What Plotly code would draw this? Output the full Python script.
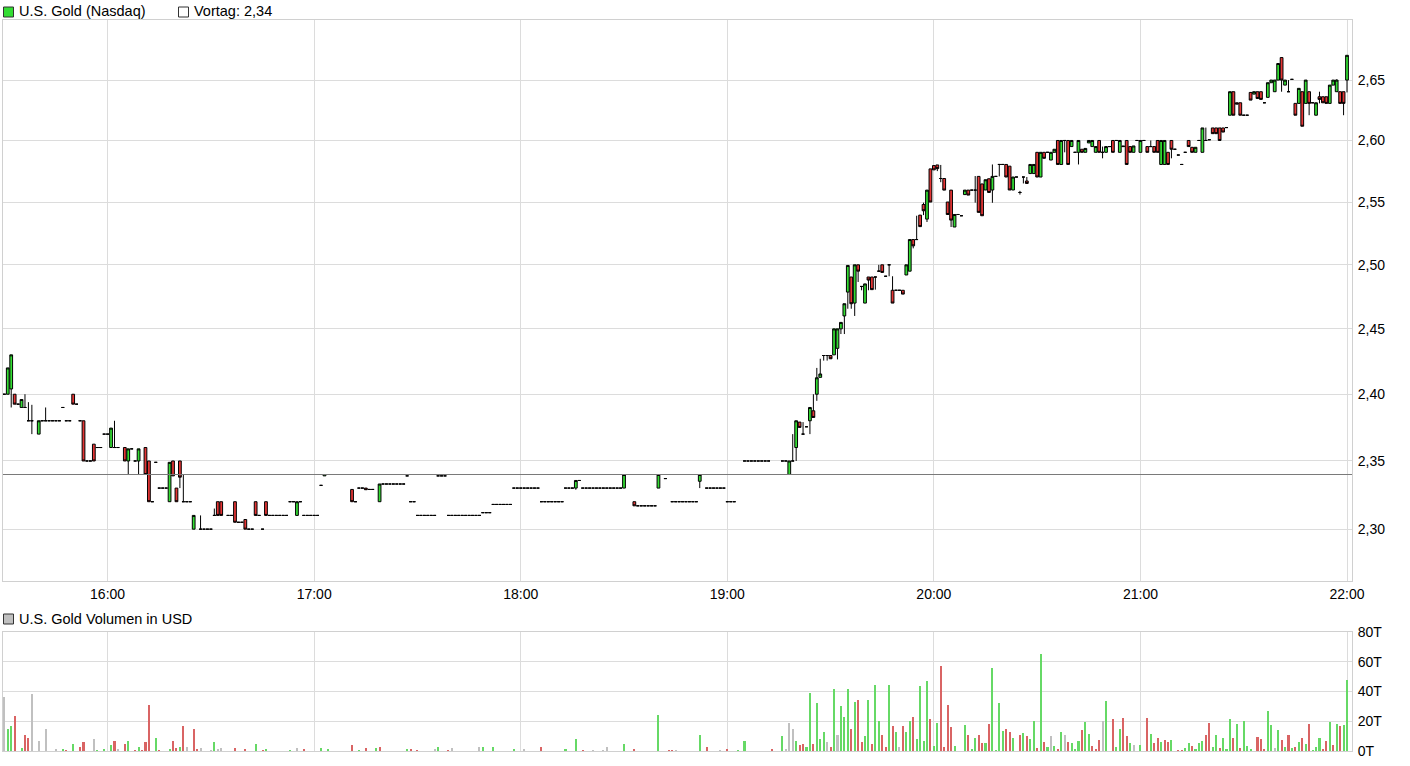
import math
import pandas as pd
import plotly.graph_objects as go

# ---------------- data (minutes after 15:30) ----------------
session_start = "2024-05-14 15:30:00"
prev_close = 2.34

# flat one-minute candles (open = high = low = close)
flat_min = [0, 4, 11, 13, 14, 15, 16, 17, 18, 19,
            21, 22, 24, 25, 27, 28, 29, 30, 33, 37,
            38, 43, 44, 45, 46, 47, 53, 54, 58, 59,
            60, 65, 66, 68, 69, 71, 72, 74, 75, 77,
            78, 79, 80, 81, 82, 83, 84, 86, 87, 88,
            89, 90, 91, 92, 102, 103, 104, 106, 107, 110,
            111, 112, 113, 114, 115, 116, 117, 118, 119, 120,
            121, 122, 123, 124, 125, 126, 127, 128, 129, 130,
            131, 132, 133, 134, 135, 136, 137, 138, 139, 140,
            141, 142, 143, 144, 145, 146, 147, 148, 149, 150,
            151, 152, 153, 154, 155, 156, 157, 158, 159, 160,
            161, 162, 163, 164, 165, 167, 168, 169, 170, 171,
            172, 173, 174, 175, 176, 177, 178, 179, 184, 185,
            186, 187, 188, 189, 191, 192, 194, 195, 196, 197,
            198, 199, 200, 201, 204, 205, 206, 207, 208, 209,
            210, 211, 212, 213, 214, 215, 216, 217, 218, 219,
            220, 221, 222, 226, 227, 233, 256, 259, 260, 277,
            278, 281, 288, 290, 294, 303, 311, 321, 323, 329,
            331, 340, 341, 342, 343, 347, 350, 355, 360, 361,
            366, 374, 380]
flat_px = [2.40, 2.3925, 2.38, 2.38, 2.38, 2.38, 2.38, 2.39, 2.38, 2.38,
           2.3925, 2.38, 2.35, 2.35, 2.36, 2.36, 2.37, 2.37, 2.36, 2.359,
           2.35, 2.32, 2.349, 2.33, 2.33, 2.33, 2.32, 2.32, 2.30, 2.30,
           2.30, 2.31, 2.31, 2.305, 2.305, 2.30, 2.30, 2.31, 2.30, 2.31,
           2.31, 2.31, 2.31, 2.31, 2.31, 2.32, 2.32, 2.32, 2.31, 2.31,
           2.31, 2.31, 2.31, 2.332, 2.32, 2.33, 2.33, 2.329, 2.329, 2.333,
           2.333, 2.333, 2.333, 2.333, 2.333, 2.333, 2.339, 2.32, 2.32, 2.31,
           2.31, 2.31, 2.31, 2.31, 2.31, 2.339, 2.339, 2.339, 2.31, 2.31,
           2.31, 2.31, 2.31, 2.31, 2.31, 2.31, 2.31, 2.31, 2.312, 2.312,
           2.312, 2.318, 2.318, 2.318, 2.318, 2.318, 2.318, 2.33, 2.33, 2.33,
           2.33, 2.33, 2.33, 2.33, 2.33, 2.32, 2.32, 2.32, 2.32, 2.32,
           2.32, 2.32, 2.33, 2.33, 2.33, 2.3356, 2.33, 2.33, 2.33, 2.33,
           2.33, 2.33, 2.33, 2.33, 2.33, 2.33, 2.33, 2.33, 2.317, 2.317,
           2.317, 2.317, 2.317, 2.317, 2.34, 2.337, 2.32, 2.32, 2.32, 2.32,
           2.32, 2.32, 2.32, 2.32, 2.33, 2.33, 2.33, 2.33, 2.33, 2.33,
           2.32, 2.32, 2.32, 2.34, 2.34, 2.35, 2.35, 2.35, 2.35, 2.35,
           2.35, 2.35, 2.35, 2.35, 2.35, 2.3755, 2.491, 2.48, 2.48, 2.54,
           2.539, 2.5596, 2.5707, 2.5804, 2.5702, 2.5903, 2.5903, 2.595, 2.60, 2.60,
           2.60, 2.5928, 2.5881, 2.5804, 2.5903, 2.60, 2.6006, 2.6106, 2.6208, 2.6208,
           2.6311, 2.6506, 2.6311]

# one-minute candles with a range
bar_min = [1, 2, 3, 5, 6, 7, 8, 10, 12, 20,
           23, 26, 31, 32, 35, 36, 39, 41, 42, 48,
           49, 50, 51, 52, 55, 57, 61, 62, 63, 67,
           70, 73, 76, 85, 93, 101, 105, 109, 166, 180,
           183, 190, 202, 228, 229, 230, 231, 232, 234, 235,
           236, 237, 238, 239, 240, 241, 242, 243, 244, 245,
           246, 247, 248, 249, 250, 251, 252, 253, 254, 255,
           257, 258, 261, 262, 263, 264, 265, 266, 267, 268,
           269, 270, 271, 272, 273, 274, 275, 276, 279, 280,
           282, 283, 284, 285, 286, 287, 289, 291, 292, 293,
           295, 296, 297, 298, 299, 300, 301, 302, 304, 305,
           306, 307, 308, 309, 310, 312, 313, 314, 315, 316,
           317, 318, 319, 320, 322, 324, 325, 326, 327, 328,
           330, 332, 333, 334, 335, 336, 337, 338, 339, 344,
           345, 346, 348, 349, 351, 352, 353, 354, 356, 357,
           358, 359, 362, 363, 364, 365, 367, 368, 369, 370,
           371, 372, 373, 375, 376, 377, 378, 379, 381, 382,
           383, 384, 385, 386, 387, 388, 389, 390]
bar_open = [2.40, 2.404, 2.40, 2.39, 2.39, 2.38, 2.38, 2.37, 2.38, 2.40,
            2.38, 2.3625, 2.36, 2.36, 2.36, 2.35, 2.35, 2.36, 2.35, 2.32,
            2.35, 2.33, 2.35, 2.32, 2.30, 2.30, 2.31, 2.32, 2.32, 2.32,
            2.307, 2.32, 2.32, 2.31, 2.339, 2.329, 2.330, 2.32, 2.33, 2.33,
            2.32, 2.33, 2.335, 2.34, 2.35, 2.36, 2.379, 2.37, 2.38, 2.3875,
            2.40, 2.4128, 2.4295, 2.4295, 2.4295, 2.43, 2.435, 2.45, 2.46, 2.4786,
            2.4904, 2.47, 2.50, 2.483, 2.47, 2.4904, 2.4904, 2.4904, 2.495, 2.50,
            2.50, 2.48, 2.48, 2.492, 2.495, 2.52, 2.52, 2.5395, 2.548, 2.5363,
            2.5768, 2.5795, 2.58, 2.569, 2.569, 2.55, 2.5596, 2.53, 2.556, 2.5596,
            2.5596, 2.5707, 2.5646, 2.5597, 2.5688, 2.5597, 2.5804, 2.5804, 2.579, 2.5597,
            2.5577, 2.5702, 2.567, 2.573, 2.573, 2.5903, 2.5702, 2.5903, 2.584, 2.5903,
            2.60, 2.5804, 2.60, 2.60, 2.595, 2.5903, 2.5928, 2.5903, 2.598, 2.595,
            2.5903, 2.60, 2.5903, 2.5903, 2.60, 2.5903, 2.5955, 2.60, 2.595, 2.5903,
            2.5903, 2.595, 2.595, 2.595, 2.60, 2.5804, 2.5804, 2.5903, 2.60, 2.60,
            2.5944, 2.5903, 2.5903, 2.60, 2.6103, 2.6103, 2.6103, 2.6103, 2.6208, 2.6403,
            2.6311, 2.6311, 2.6397, 2.6383, 2.6403, 2.6403, 2.6356, 2.6478, 2.6403, 2.65,
            2.6689, 2.6458, 2.6403, 2.6306, 2.6306, 2.6403, 2.6306, 2.6403, 2.6208, 2.6361,
            2.6361, 2.6361, 2.6306, 2.6458, 2.6403, 2.6403, 2.6403, 2.65]
bar_high = [2.42, 2.43, 2.40, 2.396, 2.40, 2.394, 2.392, 2.38, 2.39, 2.40,
            2.38, 2.3625, 2.3745, 2.38, 2.36, 2.359, 2.359, 2.36, 2.35, 2.349,
            2.35, 2.33, 2.35, 2.34, 2.31, 2.31, 2.315, 2.32, 2.32, 2.32,
            2.307, 2.32, 2.32, 2.32, 2.34, 2.329, 2.330, 2.333, 2.3356, 2.34,
            2.32, 2.34, 2.34, 2.35, 2.37, 2.38, 2.379, 2.379, 2.39, 2.40,
            2.42, 2.427, 2.4295, 2.4295, 2.4295, 2.45, 2.45, 2.455, 2.4695, 2.4995,
            2.4904, 2.50, 2.50, 2.483, 2.485, 2.4904, 2.4904, 2.4904, 2.50, 2.50,
            2.50, 2.491, 2.48, 2.50, 2.52, 2.52, 2.539, 2.5395, 2.5495, 2.5596,
            2.5768, 2.5795, 2.58, 2.58, 2.569, 2.55, 2.5596, 2.54, 2.5596, 2.5596,
            2.571, 2.5707, 2.5646, 2.568, 2.5688, 2.5804, 2.5804, 2.5804, 2.579, 2.5702,
            2.559, 2.5702, 2.5702, 2.5804, 2.5804, 2.5903, 2.5903, 2.5903, 2.5903, 2.5928,
            2.60, 2.60, 2.60, 2.60, 2.60, 2.60, 2.5928, 2.5935, 2.60, 2.60,
            2.595, 2.60, 2.595, 2.595, 2.60, 2.60, 2.5955, 2.60, 2.595, 2.5955,
            2.60, 2.595, 2.60, 2.595, 2.60, 2.60, 2.60, 2.5903, 2.60, 2.60,
            2.5944, 2.5944, 2.6103, 2.6106, 2.6103, 2.6103, 2.6103, 2.6103, 2.6403, 2.6403,
            2.6311, 2.6311, 2.6397, 2.6403, 2.6403, 2.6403, 2.6478, 2.65, 2.65, 2.6639,
            2.6689, 2.65, 2.65, 2.6306, 2.6431, 2.6403, 2.65, 2.6403, 2.6311, 2.6403,
            2.6361, 2.6361, 2.6458, 2.65, 2.6506, 2.6403, 2.6403, 2.6708]
bar_low = [2.40, 2.39, 2.3925, 2.39, 2.39, 2.38, 2.37, 2.37, 2.38, 2.3925,
           2.35, 2.35, 2.36, 2.36, 2.35, 2.34, 2.34, 2.34, 2.32, 2.32,
           2.339, 2.32, 2.33, 2.32, 2.30, 2.30, 2.31, 2.31, 2.31, 2.305,
           2.30, 2.31, 2.31, 2.31, 2.339, 2.32, 2.3288, 2.32, 2.3288, 2.33,
           2.317, 2.33, 2.33, 2.34, 2.35, 2.35, 2.375, 2.37, 2.37, 2.3825,
           2.395, 2.4128, 2.4256, 2.4256, 2.427, 2.43, 2.4265, 2.446, 2.446, 2.4656,
           2.4656, 2.46, 2.4865, 2.480, 2.47, 2.48, 2.4805, 2.4805, 2.495, 2.494,
           2.491, 2.47, 2.477, 2.492, 2.495, 2.513, 2.52, 2.5303, 2.5395, 2.534,
           2.55, 2.576, 2.575, 2.566, 2.5596, 2.54, 2.53, 2.53, 2.556, 2.5556,
           2.5495, 2.5417, 2.539, 2.5597, 2.5577, 2.5494, 2.5707, 2.5702, 2.5597, 2.5597,
           2.556, 2.565, 2.5646, 2.573, 2.573, 2.5702, 2.5702, 2.5854, 2.584, 2.5903,
           2.5804, 2.5804, 2.5903, 2.5804, 2.595, 2.5804, 2.5903, 2.5903, 2.598, 2.595,
           2.5903, 2.5903, 2.5854, 2.5903, 2.5903, 2.5903, 2.595, 2.5804, 2.5903, 2.5903,
           2.5903, 2.5903, 2.595, 2.5903, 2.5903, 2.5804, 2.5804, 2.5804, 2.5854, 2.595,
           2.5903, 2.5903, 2.5903, 2.60, 2.6056, 2.6056, 2.60, 2.6069, 2.6208, 2.6208,
           2.63, 2.6208, 2.6333, 2.6383, 2.6347, 2.6339, 2.6356, 2.6478, 2.6403, 2.65,
           2.6403, 2.6458, 2.6403, 2.6208, 2.6306, 2.6117, 2.6306, 2.6208, 2.6208, 2.6306,
           2.6311, 2.6306, 2.6306, 2.6458, 2.6403, 2.6306, 2.6208, 2.6397]
bar_close = [2.42, 2.43, 2.3925, 2.396, 2.39, 2.38, 2.38, 2.38, 2.38, 2.3925,
             2.35, 2.35, 2.3745, 2.36, 2.35, 2.359, 2.359, 2.34, 2.32, 2.349,
             2.339, 2.32, 2.338, 2.32, 2.31, 2.30, 2.31, 2.31, 2.31, 2.305,
             2.30, 2.31, 2.31, 2.32, 2.34, 2.32, 2.3288, 2.333, 2.3356, 2.34,
             2.317, 2.34, 2.34, 2.35, 2.35, 2.38, 2.375, 2.37, 2.39, 2.3825,
             2.4125, 2.4154, 2.4295, 2.4295, 2.427, 2.45, 2.45, 2.455, 2.4695, 2.4995,
             2.4695, 2.50, 2.495, 2.483, 2.485, 2.488, 2.4805, 2.4904, 2.495, 2.494,
             2.50, 2.47, 2.477, 2.50, 2.52, 2.515, 2.52, 2.5303, 2.543, 2.5596,
             2.55, 2.576, 2.577, 2.569, 2.5596, 2.54, 2.5355, 2.54, 2.5596, 2.5556,
             2.5596, 2.5417, 2.539, 2.568, 2.5577, 2.5707, 2.5804, 2.5702, 2.5597, 2.5702,
             2.5577, 2.5702, 2.565, 2.5804, 2.5804, 2.5702, 2.5903, 2.5854, 2.5903, 2.5928,
             2.5804, 2.60, 2.60, 2.5804, 2.60, 2.60, 2.5903, 2.5935, 2.60, 2.60,
             2.595, 2.5903, 2.5903, 2.595, 2.5903, 2.60, 2.595, 2.5804, 2.5903, 2.5955,
             2.60, 2.5903, 2.595, 2.5903, 2.5903, 2.60, 2.60, 2.5804, 2.5928, 2.595,
             2.5903, 2.5944, 2.6103, 2.60, 2.6056, 2.6056, 2.60, 2.6069, 2.6403, 2.6208,
             2.63, 2.6208, 2.6333, 2.6403, 2.6347, 2.6339, 2.6478, 2.65, 2.65, 2.6639,
             2.65, 2.65, 2.6403, 2.6208, 2.6431, 2.6117, 2.65, 2.6306, 2.6311, 2.6339,
             2.6311, 2.6306, 2.6458, 2.65, 2.65, 2.6306, 2.6306, 2.6708]

# volume in thousands of USD, with direction of the minute (g up, r down, n unchanged)
vol_min = [0, 1, 2, 3, 5, 6, 7, 8, 10, 12,
           15, 17, 18, 20, 22, 23, 26, 27, 29, 31,
           32, 33, 35, 36, 38, 39, 40, 41, 42, 44,
           45, 48, 49, 50, 51, 52, 53, 55, 56, 57,
           60, 61, 62, 63, 67, 70, 73, 75, 76, 83,
           85, 87, 92, 94, 101, 103, 105, 108, 109, 117,
           118, 120, 125, 126, 129, 130, 138, 139, 142, 148,
           151, 156, 163, 166, 168, 171, 174, 175, 180, 183,
           190, 193, 194, 195, 202, 204, 208, 210, 213, 215,
           223, 226, 227, 228, 229, 230, 231, 232, 233, 234,
           235, 236, 237, 238, 239, 240, 241, 242, 243, 244,
           245, 246, 247, 248, 249, 250, 251, 252, 253, 254,
           255, 256, 257, 258, 259, 260, 261, 262, 263, 264,
           265, 266, 267, 268, 269, 270, 271, 272, 273, 274,
           275, 276, 279, 280, 281, 282, 283, 284, 285, 286,
           287, 288, 289, 290, 291, 292, 293, 295, 296, 297,
           298, 299, 300, 301, 302, 303, 304, 305, 306, 307,
           308, 309, 310, 311, 312, 313, 314, 315, 316, 317,
           318, 319, 320, 322, 323, 324, 325, 326, 327, 328,
           330, 332, 333, 334, 335, 336, 337, 338, 339, 341,
           342, 343, 344, 345, 346, 347, 348, 349, 350, 351,
           352, 353, 354, 355, 356, 357, 358, 359, 360, 361,
           362, 364, 365, 366, 367, 368, 369, 370, 371, 372,
           373, 374, 375, 376, 377, 378, 379, 380, 381, 382,
           383, 384, 385, 386, 387, 388, 389, 390]
vol_val = [36, 15, 17, 23.5, 2, 11, 8.5, 38, 6.5, 15,
           1, 1, 0.5, 4.5, 3, 6, 8, 0.5, 1, 4,
           6.5, 1, 5, 6.5, 0.5, 3, 0.5, 6, 31, 8.5,
           0.5, 1, 7, 2, 2.5, 17, 2.5, 14.5, 1, 2,
           0.5, 6, 1, 2, 2, 1, 4.5, 0.5, 1, 0.5,
           2, 1, 2, 1, 4, 0.5, 2, 2, 2.5, 1,
           1, 0.5, 1, 2.5, 0.5, 2, 2.5, 3, 2.5, 1,
           1, 2.5, 1, 8, 0.5, 0.5, 0.5, 3, 5, 1,
           24, 0.5, 0.5, 0.5, 10.5, 3, 0.5, 1, 0.5, 6.5,
           1, 10, 1, 18.5, 14.5, 7, 4, 5, 2.5, 39,
           4.5, 32, 8, 12.5, 6, 2.5, 42, 10.5, 30.5, 23,
           42, 15, 33, 34.5, 6, 10, 34, 4.5, 44.5, 20.5,
           10.5, 3, 44.5, 16.5, 13, 2.5, 17, 12.5, 20.5, 23,
           8, 44, 7, 47, 21.5, 3.5, 19, 57, 3, 31,
           16, 3.5, 17.5, 10.5, 1.5, 8.5, 10.5, 5.5, 5.5, 18,
           55.5, 0.5, 32, 13.5, 14.5, 12.5, 8.5, 10.5, 12, 10,
           8, 20.5, 2, 65, 6, 2.5, 10, 3.5, 1.5, 12.5,
           10.5, 6, 5.5, 1.5, 6.5, 14, 19.5, 11.5, 3.5, 1.5,
           7.5, 20.5, 33.5, 21.5, 2.5, 14.5, 22, 10, 5.5, 4,
           4, 22, 11.5, 5.5, 8.5, 6, 7.5, 6, 7.5, 0.5,
           0.5, 2, 5.5, 3.5, 1, 5.5, 6.5, 10.5, 19, 2.5,
           10.5, 2, 8.5, 1.5, 21.5, 8.5, 18, 2, 20.5, 3.5,
           1, 9.5, 8, 1.5, 27, 17.5, 2, 14, 7.5, 2.5,
           10.5, 2, 3, 6, 8.5, 5, 18, 0.5, 3, 9,
           1.5, 6.5, 19.5, 4, 18, 17, 17.5, 48]
vol_dir = ("nggrgrrnnn" "ngrgrrnggg" "rnrgrgrrrg" "rgrrgrnrrn" "ngnnrrgrgg"
           "nrggrgrgrg" "rrngrnnggg" "nrggrnnngr" "grrngrnrgg" "rgnnngrrgg"
           "rgggnrgngg" "grgrrggrgg" "rrgrgnrggr" "ggggrggrrr" "rggrggrrgr"
           "ggggrrgrgr" "ggrgrgngrg" "nrgggrggrr" "rngrggrrgn" "grgrrgrrgr"
           "rggrgggrrg" "grgggrgrgg" "grrrggngrg" "rgrgrgrggg" "rrgrgrgg")

x_ticks = ["16:00", "17:00", "18:00", "19:00", "20:00", "21:00", "22:00"]
price_ticks = [2.30, 2.35, 2.40, 2.45, 2.50, 2.55, 2.60, 2.65]
vol_ticks = [0, 20, 40, 60, 80]
vol_tick_text = ["0T", "20T", "40T", "60T", "80T"]

assert len(flat_min) == len(flat_px)
assert len(bar_min) == len(bar_open) == len(bar_high) == len(bar_low) == len(bar_close)
assert len(vol_min) == len(vol_val) == len(vol_dir)

# ---------------- build ----------------
base = pd.Timestamp(session_start)
day = base.strftime("%Y-%m-%d")


def tm(m):
    return base + pd.Timedelta(minutes=m)


rows = [(m, p, p, p, p) for m, p in zip(flat_min, flat_px)]
rows += list(zip(bar_min, bar_open, bar_high, bar_low, bar_close))
rows.sort(key=lambda r: r[0])

GREEN = "#33dd33"
RED = "#e53535"
VOLCOL = {"g": "#66d966", "r": "#d96464", "n": "#c0c0c0"}
GRID = "#dcdcdc"
BORDER = "#d0d0d0"
FONT = "Liberation Sans, Arial, sans-serif"

x_lo = base - pd.Timedelta(seconds=23)
x_hi = base + pd.Timedelta(minutes=391.45)

fig = go.Figure()
fig.add_trace(go.Candlestick(
    x=[tm(r[0]) for r in rows],
    open=[r[1] for r in rows], high=[r[2] for r in rows],
    low=[r[3] for r in rows], close=[r[4] for r in rows],
    increasing=dict(fillcolor=GREEN, line=dict(color="black", width=1)),
    decreasing=dict(fillcolor=RED, line=dict(color="black", width=1)),
    whiskerwidth=0, xaxis="x", yaxis="y", hoverinfo="skip", showlegend=False))

fig.add_trace(go.Scatter(
    x=[x_lo, x_hi], y=[prev_close, prev_close], mode="lines",
    line=dict(color="#7a7a7a", width=1), xaxis="x", yaxis="y",
    hoverinfo="skip", showlegend=False))

fig.add_trace(go.Bar(
    x=[tm(m) for m in vol_min], y=vol_val,
    marker=dict(color=[VOLCOL[d] for d in vol_dir], line=dict(width=0)),
    width=0.6 * 60000, xaxis="x2", yaxis="y2", hoverinfo="skip", showlegend=False))

W, H = 1410, 766
ml, mr, mt, mb = 3, 58, 20, 15
pw, ph = W - ml - mr, H - mt - mb


def px(xp):
    return (xp - ml) / pw


def py(yp):
    return (H - mb - yp) / ph


x_tickvals = [pd.Timestamp(day + " " + t) for t in x_ticks]
axis_common = dict(showgrid=True, gridcolor=GRID, gridwidth=1, showline=True,
                   linecolor=BORDER, linewidth=1, mirror=True, zeroline=False,
                   tickfont=dict(family=FONT, size=14, color="#000"))

fig.update_layout(
    width=W, height=H, margin=dict(l=ml, r=mr, t=mt, b=mb),
    paper_bgcolor="white", plot_bgcolor="white", separators=",.",
    showlegend=False, font=dict(family=FONT, size=14, color="#000"),
    boxgap=0.2, boxgroupgap=0,
    xaxis=dict(domain=[0, 1], anchor="y", type="date", range=[x_lo, x_hi],
               tickvals=x_tickvals, ticktext=x_ticks, ticks="", ticklen=0,
               rangeslider=dict(visible=False), **axis_common),
    yaxis=dict(domain=[py(581), 1], anchor="x", side="right", type="log",
               range=[math.log10(2.2627), math.log10(2.7007)],
               tickvals=price_ticks, tickformat=".2f",
               ticks="outside", ticklen=2, tickcolor="rgba(0,0,0,0)", **axis_common),
    xaxis2=dict(domain=[0, 1], anchor="y2", type="date", range=[x_lo, x_hi],
                matches="x", tickvals=x_tickvals, showticklabels=False, ticks="",
                **axis_common),
    yaxis2=dict(domain=[0, py(632)], anchor="x2", side="right", range=[0, 80],
                tickvals=vol_ticks, ticktext=vol_tick_text, ticks="outside", ticklen=2,
                tickcolor="rgba(0,0,0,0)", **axis_common),
    bargap=0,
)

# legend-like headers
shapes = [
    dict(type="rect", xref="paper", yref="paper", x0=px(3.5), x1=px(13.5), y0=py(17), y1=py(7),
         fillcolor="#33dd33", line=dict(color="#333", width=1)),
    dict(type="rect", xref="paper", yref="paper", x0=px(178.5), x1=px(188.5), y0=py(17), y1=py(7),
         fillcolor="white", line=dict(color="#333", width=1)),
    dict(type="rect", xref="paper", yref="paper", x0=px(3.5), x1=px(13.5), y0=py(624), y1=py(614),
         fillcolor="#c0c0c0", line=dict(color="#333", width=1)),
]
fig.update_layout(shapes=shapes)
ann_font = dict(family=FONT, size=14.5, color="#000")
fig.add_annotation(x=px(17), y=py(11.5), xref="paper", yref="paper", text="U.S. Gold (Nasdaq)",
                   showarrow=False, xanchor="left", yanchor="middle", font=ann_font)
fig.add_annotation(x=px(191.5), y=py(11.5), xref="paper", yref="paper", text="Vortag: 2,34",
                   showarrow=False, xanchor="left", yanchor="middle", font=ann_font)
fig.add_annotation(x=px(17), y=py(619), xref="paper", yref="paper", text="U.S. Gold Volumen in USD",
                   showarrow=False, xanchor="left", yanchor="middle", font=ann_font)

fig.write_html("out.html", config={"displayModeBar": False},
               post_script="document.body.style.margin='0';document.body.style.overflow='hidden';")
